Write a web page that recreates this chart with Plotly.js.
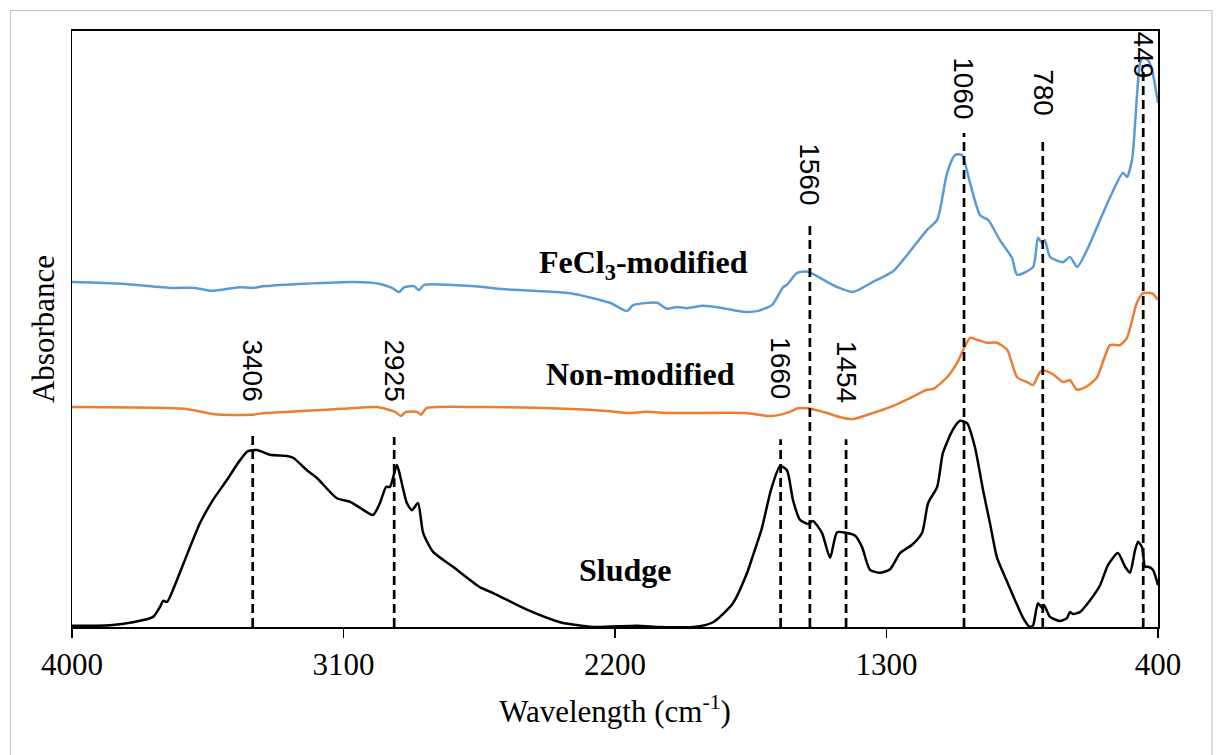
<!DOCTYPE html>
<html>
<head>
<meta charset="utf-8">
<script src="https://cdn.plot.ly/plotly-3.0.1.min.js"></script>
<style>html,body{margin:0;padding:0;background:#fff;}#chart{width:1221px;height:755px;}</style>
</head>
<body>
<div id="chart"></div>
<script>
// Wavenumbers (cm-1) and absorbance (arbitrary units)
const sludgeWn = [4000,3874,3798,3731,3708,3698,3685,3652,3619,3576,3533,3486,3443,3417,3387,3344,3287,3267,3221,3188,3122,3078,3045,3002,2979,2959,2946,2923,2913,2890,2873,2853,2836,2803,2737,2648,2604,2492,2382,2273,2127,2051,1941,1875,1809,1762,1742,1713,1683,1653,1630,1610,1587,1560,1544,1514,1487,1464,1434,1404,1381,1355,1321,1288,1255,1215,1182,1162,1132,1113,1080,1056,1033,1007,980,957,934,907,874,847,824,814,798,784,778,758,725,702,692,682,659,625,592,566,533,509,493,476,466,453,443,433,417,400];
const sludgeAbs = [0.002,0.003,0.008,0.017,0.034,0.044,0.042,0.079,0.121,0.174,0.213,0.247,0.280,0.295,0.297,0.289,0.287,0.284,0.263,0.250,0.216,0.210,0.200,0.188,0.208,0.235,0.235,0.272,0.255,0.208,0.196,0.208,0.158,0.126,0.101,0.067,0.057,0.029,0.008,0.000,0.002,0.000,0.000,0.008,0.040,0.091,0.121,0.166,0.230,0.270,0.263,0.213,0.180,0.173,0.178,0.158,0.116,0.159,0.158,0.153,0.134,0.096,0.091,0.097,0.124,0.138,0.158,0.208,0.235,0.292,0.331,0.346,0.342,0.302,0.230,0.174,0.117,0.084,0.045,0.015,0.000,0.003,0.040,0.032,0.037,0.017,0.010,0.015,0.025,0.022,0.025,0.045,0.070,0.104,0.124,0.101,0.091,0.129,0.143,0.134,0.101,0.101,0.096,0.070];

const nonModWn = [4000,3629,3526,3407,3360,3108,2989,2929,2909,2893,2856,2843,2826,2661,2366,2217,2157,2097,2024,1948,1769,1680,1620,1593,1560,1497,1454,1411,1345,1278,1222,1166,1146,1099,1066,1023,1000,967,934,900,867,834,814,791,775,748,715,692,668,635,602,559,526,503,470,450,420,400];
const nonModAbs = [0.369,0.366,0.357,0.356,0.359,0.366,0.369,0.361,0.354,0.361,0.361,0.356,0.367,0.369,0.366,0.362,0.359,0.361,0.359,0.359,0.359,0.354,0.361,0.367,0.367,0.359,0.352,0.349,0.359,0.371,0.384,0.398,0.399,0.419,0.443,0.485,0.482,0.477,0.477,0.465,0.419,0.411,0.406,0.428,0.430,0.424,0.411,0.414,0.398,0.404,0.419,0.473,0.473,0.485,0.544,0.560,0.560,0.549];

const fecl3Wn = [4000,3834,3669,3592,3536,3446,3403,3360,3228,3062,2982,2939,2916,2899,2866,2850,2833,2674,2571,2349,2217,2160,2140,2061,2028,1994,1961,1908,1842,1776,1729,1680,1643,1630,1597,1560,1497,1461,1411,1345,1278,1232,1166,1132,1099,1073,1050,1023,990,963,924,884,867,814,798,784,775,758,715,692,668,635,602,559,516,503,486,470,460,450,433,420,400];
const fecl3Abs = [0.579,0.576,0.569,0.569,0.564,0.570,0.569,0.572,0.576,0.579,0.576,0.569,0.562,0.570,0.572,0.565,0.574,0.572,0.567,0.560,0.544,0.530,0.540,0.544,0.534,0.537,0.535,0.539,0.535,0.529,0.530,0.540,0.570,0.574,0.594,0.596,0.579,0.570,0.562,0.579,0.597,0.624,0.666,0.683,0.762,0.792,0.792,0.745,0.691,0.683,0.649,0.619,0.591,0.604,0.653,0.644,0.649,0.621,0.612,0.621,0.604,0.633,0.671,0.721,0.762,0.755,0.784,0.889,0.946,0.956,0.951,0.935,0.879];

// Peak marker lines: label, position as drawn, top of the dashed line, label centre height
const peakLabels = ["3406","2925","1660","1560","1454","1060","780","449"];
const peakPos    = [3401, 2932, 1651, 1554, 1434, 1043, 782, 449];
const peakTop    = [0.326, 0.319, 0.315, 0.674, 0.315, 0.829, 0.817, 0.943];
const peakLabelY = [0.431, 0.430, 0.435, 0.760, 0.428, 0.904, 0.896, 0.960];

// Series name labels
const seriesNames = ["FeCl<sub>3</sub>-modified", "Non-modified", "Sludge"];
const seriesNameX = [2104, 2117, 2167];
const seriesNameY = [0.609, 0.424, 0.096];

const xTicks = [4000, 3100, 2200, 1300, 400];

const lineW = 2.5;
const traces = [
  {x: sludgeWn, y: sludgeAbs, mode: 'lines', line: {color: '#000000', width: lineW, shape: 'spline', smoothing: 0.6}, name: 'Sludge'},
  {x: nonModWn, y: nonModAbs, mode: 'lines', line: {color: '#ED7D31', width: lineW, shape: 'spline', smoothing: 0.6}, name: 'Non-modified'},
  {x: fecl3Wn, y: fecl3Abs, mode: 'lines', line: {color: '#5B9BD5', width: lineW, shape: 'spline', smoothing: 0.6}, name: 'FeCl3-modified'}
];

const shapes = peakPos.map((p, i) => ({
  type: 'line', xref: 'x', yref: 'y', x0: p, x1: p, y0: 0, y1: peakTop[i],
  line: {color: '#000000', width: 2.7, dash: '9px,5px'}
}));
// outer light-grey frame
shapes.push({type: 'rect', xref: 'paper', yref: 'paper', x0: -0.0566, x1: 1.0497, y0: -0.23, y1: 1.0344,
  line: {color: '#BFBFBF', width: 1}, fillcolor: 'rgba(0,0,0,0)'});

const annotations = peakLabels.map((t, i) => ({
  x: peakPos[i], y: peakLabelY[i], xref: 'x', yref: 'y', text: t, showarrow: false,
  textangle: 90, xanchor: 'center', yanchor: 'middle',
  font: {family: 'Liberation Sans Narrow, Liberation Sans, Arial, sans-serif', size: 28, color: '#000000'}
})).concat(seriesNames.map((t, i) => ({
  x: seriesNameX[i], y: seriesNameY[i], xref: 'x', yref: 'y', text: '<b>' + t + '</b>', showarrow: false,
  xanchor: 'center', yanchor: 'middle',
  font: {family: 'Liberation Serif, Times New Roman, serif', size: 32, color: '#000000'}
})));

const layout = {
  width: 1221, height: 755,
  margin: {l: 72, r: 63, t: 31, b: 128},
  paper_bgcolor: '#ffffff', plot_bgcolor: '#ffffff',
  showlegend: false,
  font: {family: 'Liberation Serif, Times New Roman, serif', color: '#000000'},
  xaxis: {
    range: [4000, 400], tickvals: xTicks, ticktext: xTicks.map(String),
    ticks: 'outside', ticklen: 9, tickwidth: 1.5, tickcolor: '#000000',
    showline: true, linecolor: '#000000', linewidth: 1.8, mirror: true,
    showgrid: false, zeroline: false,
    tickfont: {family: 'Liberation Serif, Times New Roman, serif', size: 31, color: '#000000'},
    title: {text: 'Wavelength (cm<sup>-1</sup>)', standoff: 19,
      font: {family: 'Liberation Serif, Times New Roman, serif', size: 31, color: '#000000'}},
    automargin: false
  },
  yaxis: {
    range: [0, 1], showticklabels: false, ticks: '',
    showline: true, linecolor: '#000000', linewidth: 1.5, mirror: true,
    showgrid: false, zeroline: false,
    title: {text: 'Absorbance', standoff: 6,
      font: {family: 'Liberation Serif, Times New Roman, serif', size: 31, color: '#000000'}},
    automargin: false
  },
  shapes: shapes,
  annotations: annotations
};

Plotly.newPlot('chart', traces, layout, {displayModeBar: false, staticPlot: true});
</script>
</body>
</html>
